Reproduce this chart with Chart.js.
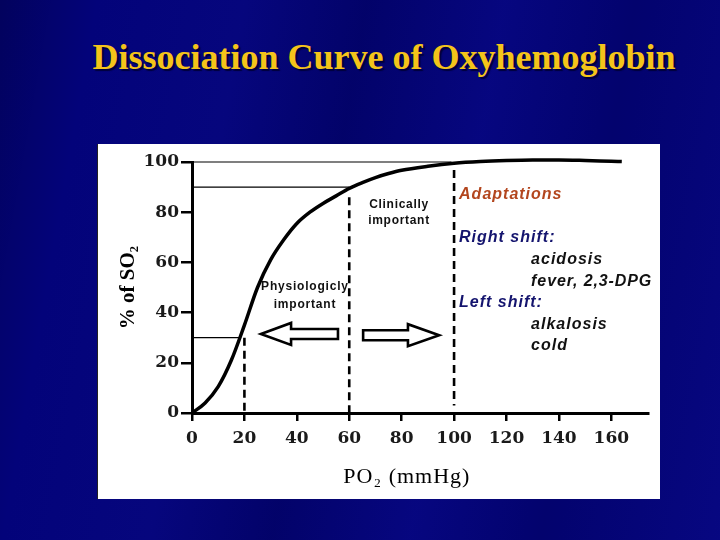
<!DOCTYPE html>
<html>
<head>
<meta charset="utf-8">
<script src="https://cdn.jsdelivr.net/npm/chart.js@4/dist/chart.umd.min.js"></script>
<style>
  html, body { margin: 0; padding: 0; }
  body {
    width: 720px; height: 540px; overflow: hidden; position: relative;
    background:
      linear-gradient(100deg, rgba(0,0,40,0.35) 0%, rgba(0,0,40,0) 12%, rgba(20,20,140,0.18) 30%, rgba(0,0,40,0.2) 45%, rgba(20,20,150,0.2) 62%, rgba(0,0,40,0.15) 78%, rgba(20,20,150,0.25) 100%),
      #03037a;
  }
  #title {
    position: absolute; left: 0; top: 40px; width: 768px; text-align: center;
    font-family: 'Liberation Serif', serif; font-weight: bold; font-size: 36px; line-height: 35px;
    color: #F4C41A; text-shadow: 2px 2px 1px #00003a; white-space: nowrap;
  }
  #panel {
    position: absolute; left: 97px; top: 144px; width: 563px; height: 355px;
    background: #fff; border-left: 1px solid #222; box-sizing: border-box;
  }
  #panel canvas { position: absolute; left: 0; top: 0; }
</style>
</head>
<body>
<div id="title">Dissociation Curve of Oxyhemoglobin</div>
<div id="panel"><canvas id="c" width="562" height="355"></canvas></div>
<script>
// ---- data ----
const po2 = [0, 5, 10, 15, 20, 25, 30, 35, 40, 45, 50, 55, 60, 65, 70, 75, 80, 90, 100, 110, 120, 130, 140, 150, 160, 164];
const so2 = [0, 4, 10.5, 21, 35, 50, 61, 69, 75.5, 80, 83.5, 86.5, 89.5, 91.8, 93.8, 95.4, 96.7, 98.3, 99.5, 100.2, 100.6, 100.8, 100.8, 100.6, 100.3, 100.2];
const xTicks = [0, 20, 40, 60, 80, 100, 120, 140, 160];
const yTicks = [0, 20, 40, 60, 80, 100];
const refLevels = [100, 90, 30];
const refEnds = [99, 60, 18.2];
const dashX = [20, 60, 100];
const dashTop = [30, 86, 96.8];
const dashBottom = [0, 0, 3];
const xTitle = 'PO\u2082 (mmHg)';
const yTitle = '% of SO\u2082';

// annotation texts (anchored in data coordinates)
const notes = [
  { t: 'Clinically', x: 79, y: 82.9, align: 'center', font: 'bold 12px "Liberation Sans"', color: '#111', ls: '0.7px' },
  { t: 'important', x: 79, y: 76.5, align: 'center', font: 'bold 12px "Liberation Sans"', color: '#111', ls: '0.7px' },
  { t: 'Physiologicly', x: 43.1, y: 50.2, align: 'center', font: 'bold 12px "Liberation Sans"', color: '#111', ls: '0.8px' },
  { t: 'important', x: 43.1, y: 43, align: 'center', font: 'bold 12px "Liberation Sans"', color: '#111', ls: '0.8px' },
  { t: 'Adaptations', x: 101.9, y: 86.9, align: 'left', font: 'italic bold 16px "Liberation Sans"', color: '#B3461E', ls: '1px' },
  { t: 'Right shift:', x: 101.9, y: 69.7, align: 'left', font: 'italic bold 16px "Liberation Sans"', color: '#14146e', ls: '1px' },
  { t: 'acidosis', x: 129.4, y: 61, align: 'left', font: 'italic bold 16px "Liberation Sans"', color: '#111', ls: '1px' },
  { t: 'fever, 2,3-DPG', x: 129.4, y: 52.2, align: 'left', font: 'italic bold 16px "Liberation Sans"', color: '#111', ls: '0.9px' },
  { t: 'Left shift:', x: 101.9, y: 43.8, align: 'left', font: 'italic bold 16px "Liberation Sans"', color: '#14146e', ls: '1px' },
  { t: 'alkalosis', x: 129.4, y: 35.1, align: 'left', font: 'italic bold 16px "Liberation Sans"', color: '#111', ls: '1px' },
  { t: 'cold', x: 129.4, y: 26.7, align: 'left', font: 'italic bold 16px "Liberation Sans"', color: '#111', ls: '1px' }
];
// arrows: [tip, headBase, tailEnd, yCenter]
const arrows = [
  { tip: 26.3, head: 37.8, tail: 55.7, y: 31.5 },
  { tip: 94.3, head: 82.4, tail: 65.3, y: 31 }
];

// ---- datasets ----
const datasets = [];
datasets.push({
  data: po2.map((x, i) => ({ x, y: so2[i] })),
  borderColor: '#000', borderWidth: 3.5, pointRadius: 0, fill: false,
  cubicInterpolationMode: 'monotone', clip: false
});
refLevels.forEach((lv, i) => datasets.push({
  data: [{ x: 0, y: lv }, { x: refEnds[i], y: lv }],
  borderColor: '#000', borderWidth: 1.2, pointRadius: 0, fill: false, clip: false
}));
dashX.forEach((dx, i) => datasets.push({
  data: [{ x: dx, y: dashTop[i] }, { x: dx, y: dashBottom[i] }],
  borderColor: '#000', borderWidth: 2.6, borderDash: [8, 5], pointRadius: 0, fill: false
}));

const annoPlugin = {
  id: 'anno',
  afterDatasetsDraw(chart) {
    const ctx = chart.ctx, xs = chart.scales.x, ys = chart.scales.y;
    ctx.save();
    // arrows
    ctx.strokeStyle = '#000'; ctx.lineWidth = 2.6; ctx.lineJoin = 'miter'; ctx.fillStyle = '#fff';
    arrows.forEach(a => {
      const tip = xs.getPixelForValue(a.tip), head = xs.getPixelForValue(a.head), tail = xs.getPixelForValue(a.tail);
      const cy = ys.getPixelForValue(a.y);
      const hh = 11, sh = 5;
      ctx.beginPath();
      ctx.moveTo(tip, cy);
      ctx.lineTo(head, cy - hh);
      ctx.lineTo(head, cy - sh);
      ctx.lineTo(tail, cy - sh);
      ctx.lineTo(tail, cy + sh);
      ctx.lineTo(head, cy + sh);
      ctx.lineTo(head, cy + hh);
      ctx.closePath();
      ctx.fill(); ctx.stroke();
    });
    // notes
    ctx.textBaseline = 'middle';
    notes.forEach(n => {
      ctx.font = n.font; ctx.fillStyle = n.color; ctx.textAlign = n.align;
      ctx.letterSpacing = n.ls || '0px';
      ctx.fillText(n.t, xs.getPixelForValue(n.x), ys.getPixelForValue(n.y));
    });
    // x axis title
    ctx.letterSpacing = '1px';
    ctx.font = '22px "Liberation Serif"'; ctx.fillStyle = '#000'; ctx.textAlign = 'center';
    ctx.fillText(xTitle, xs.getPixelForValue(82), ys.bottom + 64);
    ctx.restore();
  }
};

const tickFont = { family: '"DejaVu Serif"', size: 17, weight: 'bold' };
new Chart(document.getElementById('c'), {
  type: 'line',
  data: { datasets },
  plugins: [annoPlugin],
  options: {
    responsive: false, animation: false, events: [],
    layout: { padding: { left: 0, right: 12, top: 18, bottom: 0 } },
    plugins: { legend: { display: false }, tooltip: { enabled: false } },
    scales: {
      x: {
        type: 'linear', min: 0, max: 174,
        afterBuildTicks: s => { s.ticks = xTicks.map(v => ({ value: v })); },
        afterFit: s => { s.height = 86; },
        ticks: { color: '#1a1a1a', font: tickFont, padding: 7, maxRotation: 0, autoSkip: false },
        grid: { display: true, drawOnChartArea: false, drawTicks: true, tickLength: 8, color: '#000', lineWidth: 2.5 },
        border: { display: true, color: '#000', width: 3 }
      },
      y: {
        type: 'linear', min: 0, max: 100,
        afterBuildTicks: s => { s.ticks = yTicks.map(v => ({ value: v })); },
        afterFit: s => { s.width = 94; },
        ticks: { color: '#1a1a1a', font: tickFont, padding: 2, autoSkip: false },
        grid: { display: true, drawOnChartArea: false, drawTicks: true, tickLength: 11, color: '#000', lineWidth: 2.5 },
        border: { display: true, color: '#000', width: 3 },
        title: { display: true, text: yTitle, color: '#000', font: { family: '"Liberation Serif"', size: 21, weight: 'bold' }, padding: { top: 18, bottom: 0 } }
      }
    }
  }
});
</script>
</body>
</html>
